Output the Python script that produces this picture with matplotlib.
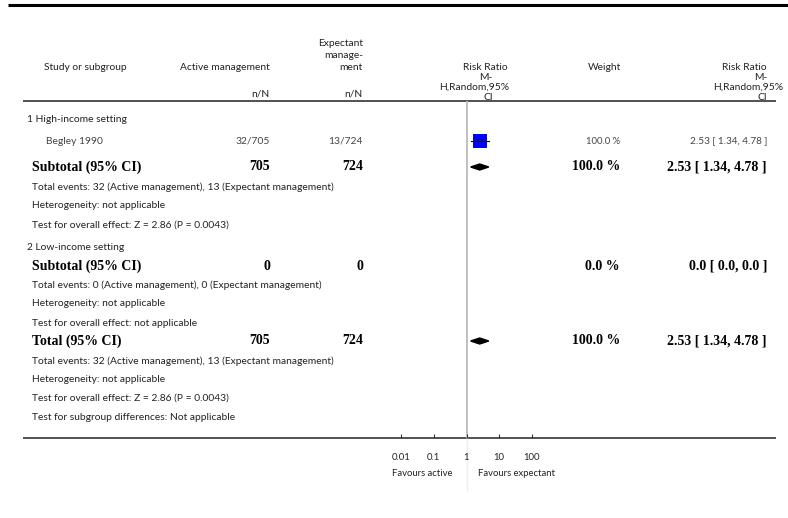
import numpy as np
import matplotlib
matplotlib.use("Agg")
import matplotlib.pyplot as plt
from matplotlib.patches import Polygon

# study data
study_names = ["Begley 1990"]
active_nN = ["32/705"]
expect_nN = ["13/724"]
study_rr = [2.53]
study_lo = [1.34]
study_hi = [4.78]
study_weight = ["100.0 %"]
study_text = ["2.53 [ 1.34, 4.78 ]"]

# pooled rows
pooled_labels = ["Subtotal (95% CI)", "Subtotal (95% CI)", "Total (95% CI)"]
pooled_active = ["705", "0", "705"]
pooled_expect = ["724", "0", "724"]
pooled_weight = ["100.0 %", "0.0 %", "100.0 %"]
pooled_text = ["2.53 [ 1.34, 4.78 ]", "0.0 [ 0.0, 0.0 ]", "2.53 [ 1.34, 4.78 ]"]
pooled_rr = [2.53, None, 2.53]
pooled_lo = [1.34, None, 1.34]
pooled_hi = [4.78, None, 4.78]

group_titles = ["1 High-income setting", "2 Low-income setting"]
notes_g1 = ["Total events: 32 (Active management), 13 (Expectant management)",
            "Heterogeneity: not applicable",
            "Test for overall effect: Z = 2.86 (P = 0.0043)"]
notes_g2 = ["Total events: 0 (Active management), 0 (Expectant management)",
            "Heterogeneity: not applicable",
            "Test for overall effect: not applicable"]
notes_tot = ["Total events: 32 (Active management), 13 (Expectant management)",
             "Heterogeneity: not applicable",
             "Test for overall effect: Z = 2.86 (P = 0.0043)",
             "Test for subgroup differences: Not applicable"]

ticks = [0.01, 0.1, 1, 10, 100]
tick_labels = ["0.01", "0.1", "1", "10", "100"]

SANS = ["Lato", "DejaVu Sans"]
SERIF = ["Liberation Serif", "DejaVu Serif"]
TXT = "#222222"
FS = 7.4
FB = 10

fig = plt.figure(figsize=(7.88, 5.18), dpi=100)
bg = fig.add_axes([0, 0, 1, 1])
bg.set_xlim(0, 788)
bg.set_ylim(518, 0)
bg.axis("off")

def t(x, y, s, ha="left", size=FS, bold=False, color=TXT):
    bg.text(x, y, s, ha=ha, va="center", fontsize=size,
            family=SERIF if bold else SANS,
            fontweight="bold" if bold else "normal", color=color)

# rules
bg.plot([8, 788], [5, 5], color="black", lw=2.2, solid_capstyle="butt")
bg.plot([23, 776], [101, 101], color="#333333", lw=1.2, solid_capstyle="butt")
bg.plot([23, 776], [438, 438], color="#333333", lw=1.2, solid_capstyle="butt")

# header
hy = 67
t(85, hy, "Study or subgroup", ha="center")
t(270, hy, "Active management", ha="right")
t(363, 44, "Expectant", ha="right")
t(363, 55, "manage-", ha="right")
t(363, hy, "ment", ha="right")
t(270, 94, "n/N", ha="right")
t(363, 94, "n/N", ha="right")
t(485, hy, "Risk Ratio", ha="center")
t(486, 77, "M-", ha="center")
t(474, 87, "H,Random,95%", ha="center")
t(488, 97, "CI", ha="center")
t(604, hy, "Weight", ha="center")
t(767, hy, "Risk Ratio", ha="right")
t(767, 77, "M-", ha="right")
t(783, 87, "H,Random,95%", ha="right")
t(767, 97, "CI", ha="right")

# row positions (pixels from top)
study_y = [141]
pooled_y = [167, 266, 341]
title_y = [119, 248]
notes_y = [[187, 206, 225], [285, 304, 323], [361, 379, 398, 417]]

for y, s in zip(title_y, group_titles):
    t(27, y, s)
for i, y in enumerate(study_y):
    t(46, y, study_names[i], color="#444444")
    t(270, y, active_nN[i], ha="right", color="#444444")
    t(363, y, expect_nN[i], ha="right", color="#444444")
    t(620, y, study_weight[i], ha="right", size=6.8, color="#444444")
    t(767, y, study_text[i], ha="right", size=7.2, color="#444444")
for i, y in enumerate(pooled_y):
    t(32, y, pooled_labels[i], bold=True, size=FB, color="black")
    t(270, y, pooled_active[i], ha="right", bold=True, size=FB, color="black")
    t(363, y, pooled_expect[i], ha="right", bold=True, size=FB, color="black")
    t(620, y, pooled_weight[i], ha="right", bold=True, size=FB, color="black")
    t(767, y, pooled_text[i], ha="right", bold=True, size=FB, color="black")
for ys, notes in zip(notes_y, [notes_g1, notes_g2, notes_tot]):
    for y, s in zip(ys, notes):
        t(32, y, s)

t(422, 473, "Favours active", ha="center", size=6.8)
t(517, 473, "Favours expectant", ha="center", size=6.8)

# forest panel
ax = fig.add_axes([401 / 788, (518 - 438) / 518, (532 - 401) / 788, (438 - 101) / 518])
ax.set_xscale("log")
ax.set_xlim(0.01, 100)
ax.set_ylim(438, 101)
ax.patch.set_alpha(0)
for sp in ax.spines.values():
    sp.set_visible(False)
ax.set_yticks([])
ax.set_xticks(ticks)
ax.set_xticklabels(tick_labels, fontsize=6.8, family=SANS, color=TXT)
ax.xaxis.set_minor_locator(matplotlib.ticker.NullLocator())
ax.tick_params(axis="x", direction="in", length=3, width=0.8, pad=11, color="#333333")

ax.axvline(1, color="#bbbbbb", lw=1.3, zorder=1)
ax.plot([1, 1], [438, 490], color="#eeeeee", lw=1, clip_on=False, zorder=1)

for i, y in enumerate(study_y):
    ax.plot([study_lo[i], study_hi[i]], [y, y], color="black", lw=0.8, zorder=3)
    ax.plot([study_rr[i]], [y], marker="s", markersize=9.4, color="#0000ff",
            markeredgewidth=0, zorder=2)
for i, y in enumerate(pooled_y):
    if pooled_rr[i] is None:
        continue
    pts = [(pooled_lo[i], y), (pooled_rr[i], y - 3), (pooled_hi[i], y), (pooled_rr[i], y + 3)]
    ax.add_patch(Polygon(pts, closed=True, color="black", zorder=3))

fig.savefig("out.png", dpi=100)
